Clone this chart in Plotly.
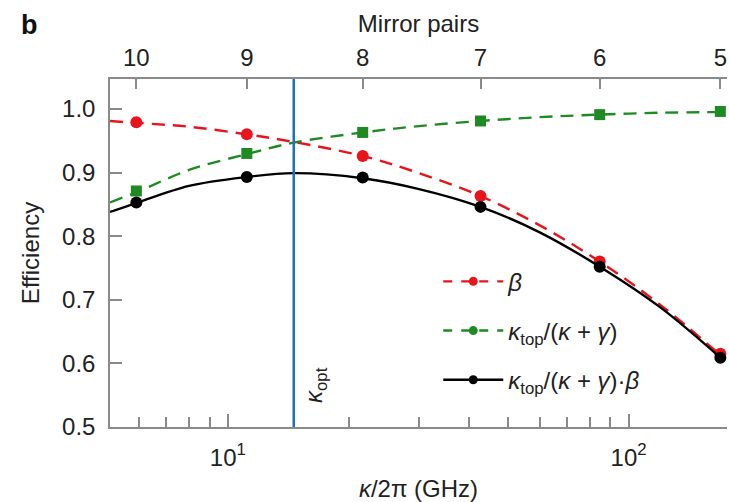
import numpy as np
import plotly.graph_objects as go

# ---- data ----
kappa = [5.91, 11.15, 21.7, 42.7, 84.7, 169.4]          # GHz, one per mirror-pair count
mirror_pairs = ["10", "9", "8", "7", "6", "5"]
beta = [0.979, 0.960, 0.926, 0.863, 0.760, 0.615]
coupling = [0.871, 0.930, 0.963, 0.981, 0.991, 0.996]
product = [0.853, 0.893, 0.892, 0.846, 0.752, 0.609]

# fitted curves (values at sample positions)
curve_kappa = [5.08, 5.91, 8.0, 11.15, 14.6, 21.7, 30, 42.7, 60, 84.7, 120, 169.4]
beta_curve = [0.981, 0.978, 0.972, 0.960, 0.948, 0.926, 0.899, 0.863, 0.817, 0.760, 0.692, 0.613]
coupling_curve = [0.853, 0.869, 0.904, 0.929, 0.947, 0.963, 0.973, 0.981, 0.987, 0.991, 0.994, 0.995]
product_curve = [0.838, 0.852, 0.879, 0.893, 0.899, 0.891, 0.874, 0.846, 0.806, 0.752, 0.688, 0.609]

kappa_opt = 14.6
x_range = [5.08, 176]
y_range = [0.5, 1.047]
y_ticks = [0.5, 0.6, 0.7, 0.8, 0.9, 1.0]
x_major = [10, 100]
x_major_text = ["10<sup>1</sup>", "10<sup>2</sup>"]
x_minor = [6, 7, 8, 9, 20, 30, 40, 50, 60, 70, 80, 90]

RED = "#e8141b"
GREEN = "#1f8a24"
BLACK = "#000000"
BLUE = "#1f6fc4"
AX = "#8a8a8a"
FONT = "Liberation Sans, Arial, sans-serif"
DASH = "13px,8px"

fig = go.Figure()

series = [
    ("b", beta, beta_curve, RED, DASH, "circle", 12, "<i>β</i>"),
    ("kt", coupling, coupling_curve, GREEN, DASH, "square", 11,
     "<i>κ</i><sub>top</sub>/(<i>κ</i> + <i>γ</i>)"),
    ("prod", product, product_curve, BLACK, "solid", "circle", 12,
     "<i>κ</i><sub>top</sub>/(<i>κ</i> + <i>γ</i>)·<i>β</i>"),
]

for key, pts, crv, col, dash, sym, msize, name in series:
    fig.add_trace(go.Scatter(
        x=curve_kappa, y=crv, mode="lines",
        line=dict(color=col, width=2.4, dash=dash, shape="spline", smoothing=1.0),
        showlegend=False, legendgroup=key, hoverinfo="skip"))
    fig.add_trace(go.Scatter(
        x=kappa, y=pts, mode="markers",
        marker=dict(color=col, size=msize, symbol=sym),
        showlegend=False, legendgroup=key))
    fig.add_trace(go.Scatter(
        x=[None], y=[None], mode="lines+markers", name=name, legendgroup=key,
        line=dict(color=col, width=2.4, dash=("dash" if dash != "solid" else "solid")),
        marker=dict(color=col, size=9, symbol="circle")))

# kappa_opt vertical line
fig.add_trace(go.Scatter(x=[kappa_opt, kappa_opt], y=y_range, mode="lines",
                         line=dict(color=BLUE, width=2.5), showlegend=False,
                         hoverinfo="skip"))

# invisible trace for the top axis
fig.add_trace(go.Scatter(x=kappa, y=product, xaxis="x2", mode="markers",
                         marker=dict(opacity=0), showlegend=False, hoverinfo="skip"))

fig.add_annotation(x=np.log10(kappa_opt), y=0.535, xref="x", yref="y",
                   text="<i>κ</i><sub>opt</sub>", textangle=-90, showarrow=False,
                   xanchor="left", yanchor="bottom", xshift=4,
                   font=dict(family=FONT, size=24, color="#222"))

fig.add_annotation(x=-0.148, y=1.155, xref="paper", yref="paper", text="<b>b</b>",
                   xanchor="left", yanchor="middle",
                   showarrow=False, font=dict(family=FONT, size=27, color="#111"))

fig.update_layout(
    width=729, height=502,
    margin=dict(l=110, r=2, t=79, b=75),
    plot_bgcolor="white", paper_bgcolor="white",
    font=dict(family=FONT, size=24, color="#222"),
    xaxis=dict(type="log", range=[np.log10(x_range[0]), np.log10(x_range[1])],
               tickvals=x_major, ticktext=x_major_text, ticks="inside", ticklen=13,
               tickwidth=1.5, tickcolor=AX, showline=True, linecolor=AX, linewidth=1.5,
               showgrid=False, zeroline=False, automargin=False, ticklabelstandoff=8,
               minor=dict(tickvals=x_minor, ticks="inside", ticklen=10, tickwidth=1.5,
                          tickcolor=AX, showgrid=False),
               title=dict(text="<i>κ</i>/2π (GHz)", font=dict(size=24), standoff=13),
               tickfont=dict(size=24)),
    xaxis2=dict(type="log", range=[np.log10(x_range[0]), np.log10(x_range[1])],
                overlaying="x", side="top", tickvals=kappa, ticktext=mirror_pairs,
                ticks="inside", ticklen=10, tickwidth=1.5, tickcolor=AX,
                showline=True, linecolor=AX, linewidth=1.5, showgrid=False,
                zeroline=False, automargin=False, ticklabelstandoff=2,
                title=dict(text="Mirror pairs", font=dict(size=24), standoff=4),
                tickfont=dict(size=24)),
    yaxis=dict(range=y_range, tickvals=y_ticks, tickformat=".1f", ticks="inside",
               ticklen=12, tickwidth=1.5, tickcolor=AX, showline=True, linecolor=AX,
               linewidth=1.5, showgrid=False, zeroline=False, automargin=False,
               ticklabelstandoff=8,
               title=dict(text="Efficiency", font=dict(size=24), standoff=16),
               tickfont=dict(size=24)),
    legend=dict(x=0.532, y=0.482, xanchor="left", yanchor="top", bgcolor="rgba(0,0,0,0)",
                font=dict(size=24, family=FONT), itemwidth=60, tracegroupgap=15),
    showlegend=True,
)

fig.write_html("out.html", config={"displayModeBar": False},
               post_script="document.body.style.margin='0';document.body.style.padding='0';")
